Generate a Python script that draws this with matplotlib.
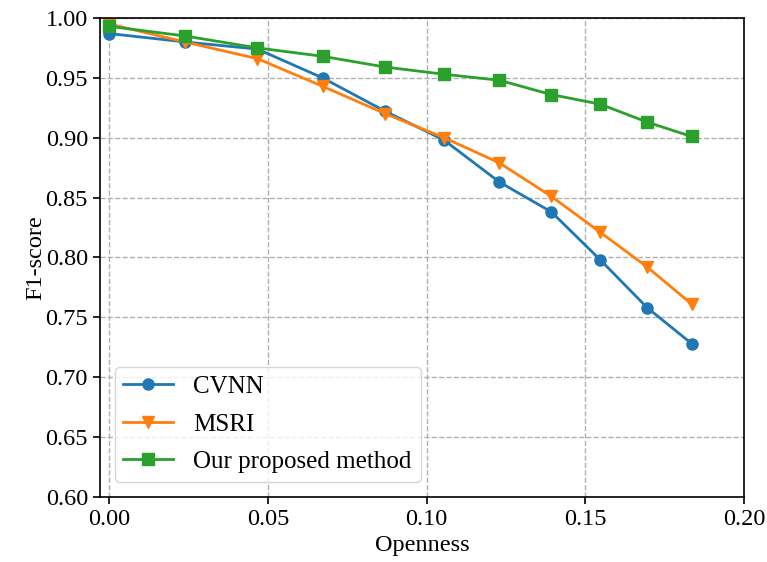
import numpy as np
import matplotlib.pyplot as plt

plt.rcParams['font.family'] = ['Liberation Serif', 'DejaVu Serif']

openness = [0.0, 0.0238, 0.0467, 0.0672, 0.0870, 0.1055, 0.1229, 0.1393, 0.1547, 0.1695, 0.1835]
cvnn = [0.987, 0.980, 0.974, 0.950, 0.922, 0.898, 0.863, 0.838, 0.798, 0.758, 0.728]
msri = [0.995, 0.980, 0.966, 0.943, 0.920, 0.900, 0.879, 0.851, 0.821, 0.792, 0.761]
ours = [0.993, 0.985, 0.975, 0.968, 0.959, 0.953, 0.948, 0.936, 0.928, 0.913, 0.901]

fig = plt.figure(figsize=(7.67, 5.62), dpi=100)
ax = fig.add_axes([0.130, 0.116, 0.840, 0.852])

ax.plot(openness, cvnn, marker='o', color='#1f77b4', linewidth=2, markersize=8, label='CVNN')
ax.plot(openness, msri, marker='v', color='#ff7f0e', linewidth=2, markersize=8, label='MSRI')
ax.plot(openness, ours, marker='s', color='#2ca02c', linewidth=2, markersize=8, label='Our proposed method')

ax.set_xlim(-0.003, 0.2)
ax.set_ylim(0.6, 1.0)
ax.set_xticks([0.0, 0.05, 0.10, 0.15, 0.20])
ax.set_yticks(np.arange(0.6, 1.001, 0.05))
ax.tick_params(labelsize=17.5, width=1.2, length=5)
for s in ax.spines.values():
    s.set_linewidth(1.2)
ax.set_xlabel('Openness', fontsize=17.5)
ax.set_ylabel('F1-score', fontsize=17.5, labelpad=-1)
ax.grid(True, linestyle='--', color='#b0b0b0', linewidth=1)
ax.legend(loc='lower left', fontsize=18, borderaxespad=0.6, labelspacing=0.6, borderpad=0.35)

fig.savefig('out.png', dpi=100)
